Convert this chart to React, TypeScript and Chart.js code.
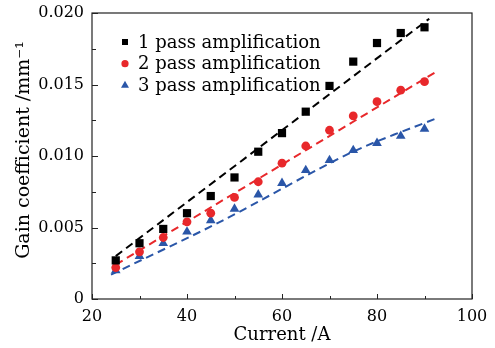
import React, { useEffect, useRef } from "react";
import { Chart, registerables } from "chart.js";

Chart.register(...registerables);

// ---- data ----
const current = [25, 30, 35, 40, 45, 50, 55, 60, 65, 70, 75, 80, 85, 90];
const pass1 = [0.0027, 0.0039, 0.0049, 0.006, 0.0072, 0.0085, 0.0103, 0.0116, 0.0131, 0.0149, 0.0166, 0.0179, 0.0186, 0.019];
const pass2 = [0.0022, 0.0033, 0.0043, 0.0054, 0.006, 0.0071, 0.0082, 0.0095, 0.0107, 0.0118, 0.0128, 0.0138, 0.0146, 0.0152];
const pass3 = [0.002, 0.003, 0.0039, 0.0047, 0.0055, 0.0063, 0.0073, 0.0081, 0.009, 0.0097, 0.0104, 0.0109, 0.0114, 0.0119];

const fit1X = [25, 91];
const fit1Y = [0.003, 0.0196];
const fit2X = [25, 92.5];
const fit2Y = [0.0024, 0.0159];
const fit3X = [24, 47.6, 74.3, 93];
const fit3Y = [0.0017, 0.0055, 0.0102, 0.0127];

const seriesLabels = ["1 pass amplification", "2 pass amplification", "3 pass amplification"];
const xTicks = [20, 40, 60, 80, 100];
const yTicks = [0, 0.005, 0.01, 0.015, 0.02];

const BLACK = "#000000";
const RED = "#e8282b";
const BLUE = "#2a56a8";
const FONT = "'DejaVu Serif', serif";

const pts = (xs: number[], ys: number[]) => xs.map((x, i) => ({ x, y: ys[i] }));

function drawMarker(ctx: CanvasRenderingContext2D, style: string, x: number, y: number, r: number, color: string) {
  ctx.save();
  ctx.fillStyle = color;
  ctx.beginPath();
  if (style === "rect") {
    ctx.rect(x - r, y - r, 2 * r, 2 * r);
  } else if (style === "circle") {
    ctx.arc(x, y, r, 0, Math.PI * 2);
  } else {
    const h = r * 1.5;
    const w = r * 1.732;
    ctx.moveTo(x, y - r);
    ctx.lineTo(x + w / 2, y - r + h);
    ctx.lineTo(x - w / 2, y - r + h);
    ctx.closePath();
  }
  ctx.fill();
  ctx.restore();
}

const framePlugin = {
  id: "frameTicks",
  afterDraw(chart: any) {
    const { ctx, chartArea } = chart;
    const { left, right, top, bottom } = chartArea;
    const xs = chart.scales.x;
    const ys = chart.scales.y;
    ctx.save();
    ctx.strokeStyle = "#222";
    ctx.lineWidth = 1.2;
    ctx.strokeRect(left, top, right - left, bottom - top);
    ctx.lineWidth = 1;
    ctx.beginPath();
    for (let v = 20; v <= 100; v += 10) {
      const px = Math.round(xs.getPixelForValue(v)) + 0.5;
      const len = v % 20 === 0 ? 5 : 3;
      ctx.moveTo(px, bottom);
      ctx.lineTo(px, bottom - len);
    }
    for (let i = 0; i <= 8; i++) {
      const v = i * 0.0025;
      const py = Math.round(ys.getPixelForValue(v)) + 0.5;
      const len = i % 2 === 0 ? 6 : 4;
      ctx.moveTo(left, py);
      ctx.lineTo(left + len, py);
    }
    ctx.stroke();

    // legend inside plot
    const styles = ["rect", "circle", "triangle"];
    const colors = [BLACK, RED, BLUE];
    const radii = [3, 3.6, 4.6];
    ctx.font = `18px ${FONT}`;
    ctx.textBaseline = "middle";
    ctx.textAlign = "left";
    for (let i = 0; i < 3; i++) {
      const y = top + 29 + i * 21.7;
      drawMarker(ctx, styles[i], left + 33, y, radii[i], colors[i]);
      ctx.fillStyle = "#000";
      ctx.fillText(seriesLabels[i], left + 46, y + 1);
    }
    ctx.restore();
  },
};

export default function App() {
  const ref = useRef<HTMLCanvasElement>(null);
  useEffect(() => {
    if (!ref.current) return;
    const dash = [8, 5];
    const chart = new Chart(ref.current, {
      type: "scatter",
      data: {
        datasets: [
          { label: seriesLabels[0], data: pts(current, pass1), pointStyle: "rect", pointRadius: 5.8, backgroundColor: BLACK, borderWidth: 0, showLine: false },
          { label: seriesLabels[1], data: pts(current, pass2), pointStyle: "circle", pointRadius: 4.4, backgroundColor: RED, borderWidth: 0, showLine: false },
          { label: seriesLabels[2], data: pts(current, pass3), pointStyle: "triangle", pointRadius: 5.6, backgroundColor: BLUE, borderWidth: 0, showLine: false },
          { label: "fit1", data: pts(fit1X, fit1Y), showLine: true, pointRadius: 0, borderColor: BLACK, borderWidth: 2, borderDash: dash, fill: false },
          { label: "fit2", data: pts(fit2X, fit2Y), showLine: true, pointRadius: 0, borderColor: RED, borderWidth: 2, borderDash: dash, fill: false },
          { label: "fit3", data: pts(fit3X, fit3Y), showLine: true, pointRadius: 0, borderColor: BLUE, borderWidth: 2, borderDash: dash, fill: false, tension: 0.3 },
        ],
      } as any,
      options: {
        animation: false,
        responsive: false,
        devicePixelRatio: 1,
        layout: { padding: { top: 13, right: 23, left: 0, bottom: 0 } },
        plugins: { legend: { display: false }, tooltip: { enabled: false } },
        scales: {
          x: {
            type: "linear",
            min: 20,
            max: 100,
            afterBuildTicks: (s: any) => { s.ticks = xTicks.map((v) => ({ value: v })); },
            afterFit: (s: any) => { s.height = 49; s.paddingLeft = 0; s.paddingRight = 0; },
            grid: { display: false },
            border: { display: false },
            ticks: { color: "#000", padding: 0, font: { family: FONT, size: 16 }, callback: (v: any) => String(v) },
            title: { display: true, text: "Current /A", color: "#000", font: { family: FONT, size: 18 }, padding: { top: 0, bottom: 2 } },
          },
          y: {
            type: "linear",
            min: 0,
            max: 0.02,
            afterBuildTicks: (s: any) => { s.ticks = yTicks.map((v) => ({ value: v })); },
            afterFit: (s: any) => { s.width = 92; s.paddingTop = 0; s.paddingBottom = 0; },
            grid: { display: false },
            border: { display: false },
            ticks: { color: "#000", padding: 0, font: { family: FONT, size: 16 }, callback: (v: any) => (v === 0 ? "0" : Number(v).toFixed(3)) },
            title: { display: true, text: "  Gain coefficient /mm⁻¹", color: "#000", font: { family: FONT, size: 19 }, padding: { top: 13, bottom: 0 } },
          },
        },
      },
      plugins: [framePlugin],
    } as any);
    return () => chart.destroy();
  }, []);
  return (
    <div style={{ position: "absolute", left: 0, top: 0, width: 495, height: 348, background: "#fff" }}>
      <canvas ref={ref} width={495} height={348} style={{ display: "block" }} />
    </div>
  );
}
